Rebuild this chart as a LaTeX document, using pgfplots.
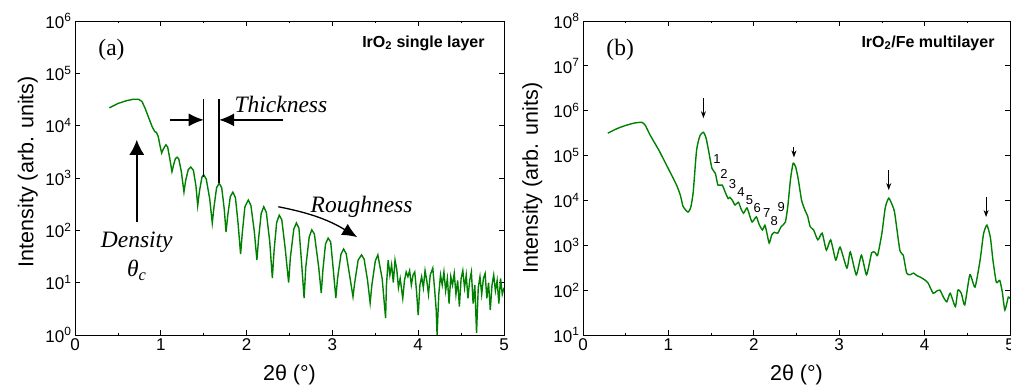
\documentclass[border=0pt]{standalone}
\usepackage{pgfplots}
\pgfplotsset{compat=1.18}
\usepackage{fontspec}
\setmainfont{Liberation Sans}
\newfontfamily\tms{Liberation Serif}
\usetikzlibrary{arrows.meta}
\definecolor{cg}{RGB}{0,128,0}
\pgfplotsset{
  every axis/.append style={
    scale only axis, height=314pt,
    xmin=0, xmax=5, xtick={0,1,2,3,4,5}, xticklabels={0,1,2,3,4,5},
    minor x tick num=1,
    tick align=inside, major tick length=5pt, minor tick length=2.5pt,
    axis line style={line width=0.9pt},
    tick style={line width=0.8pt, black},
    tick label style={font=\fontsize{17}{17}\selectfont},
    label style={font=\fontsize{21.5}{21.5}\selectfont},
    xlabel style={at={(axis description cs:0.5,-0.127)}, anchor=center},
  }
}
\begin{document}
\begin{tikzpicture}
\useasboundingbox (0,0) rectangle (1011pt,390pt);
% ---------------- panel (a)
\begin{axis}[ymode=log, log basis y=10, width=429pt, at={(75pt,55pt)}, anchor=south west,
  ymin=1, ymax=1e6,
  xlabel={2θ (°)}, ylabel={Intensity (arb. units)},
  ytick={1,10,100,1000,10000,100000,1000000},
  yticklabels={10\textsuperscript{0},10\textsuperscript{1},10\textsuperscript{2},10\textsuperscript{3},10\textsuperscript{4},10\textsuperscript{5},10\textsuperscript{6}},
  ylabel style={at={(axis description cs:-0.11,0.52)}, anchor=center},
]
\addplot[cg, line width=1.4pt] coordinates {
(0.40,21900)(0.50,26500)(0.60,30000)(0.68,32000)(0.74,32000)(0.78,29000)(0.82,21000)(0.86,14000)(0.90,9500)(0.93,7700)(0.95,7400)(0.97,6200)(0.99,4200)(1.01,3000)
(1.03,3600)(1.06,4300)(1.08,3900)(1.10,2600)(1.13,1320)(1.15,1800)(1.17,2350)(1.19,2500)(1.21,2300)(1.24,1300)(1.27,540)
(1.29,900)(1.32,1450)(1.35,1620)(1.38,1400)(1.41,700)(1.43,295)(1.45,550)(1.48,1050)(1.50,1150)(1.53,950)(1.57,400)(1.60,138)
(1.62,280)(1.65,650)(1.68,794)(1.71,650)(1.74,250)(1.76,93)(1.78,190)(1.81,440)(1.84,537)(1.87,420)(1.90,140)(1.93,35)
(1.95,90)(1.98,280)(2.02,380)(2.05,300)(2.09,95)(2.12,27)(2.14,70)(2.17,210)(2.20,282)(2.23,220)(2.27,60)(2.30,12.3)
(2.32,40)(2.35,140)(2.38,195)(2.41,160)(2.45,45)(2.49,10)(2.51,30)(2.55,105)(2.58,138)(2.61,110)(2.64,25)(2.67,5.1)
(2.69,20)(2.73,75)(2.76,102)(2.79,85)(2.84,20)(2.87,6.3)(2.89,18)(2.92,55)(2.95,71)(2.98,60)(3.01,18)(3.04,5.1)
(3.06,12)(3.10,35)(3.13,44)(3.16,36)(3.20,14)(3.24,5.4)(3.26,10)(3.30,27)(3.34,34)(3.37,28)(3.41,11)(3.44,4.1)
(3.46,9)(3.50,26)(3.53,34)(3.55,22)(3.58,12)(3.62,2.1)
(3.63,9)(3.65,27)(3.67,14)(3.69,22)(3.71,10)(3.73,27)(3.75,18)(3.77,8)(3.79,12)(3.82,5)(3.84,11)(3.86,16)(3.88,13)(3.90,17)
(3.92,9)(3.94,14)(3.96,16)(3.98,7)(4.00,2.4)(4.02,9)(4.04,13)(4.06,8)(4.08,17)(4.10,11)(4.12,6)(4.14,14)(4.17,19)(4.19,8)
(4.21,3)(4.22,1.0)(4.24,6)(4.26,14)(4.28,9)(4.30,16)(4.32,7)(4.34,12)(4.36,4)(4.38,13)(4.40,9)(4.42,15)(4.44,6)(4.46,11)
(4.48,3.5)(4.50,12)(4.52,17)(4.54,8)(4.56,14)(4.58,5)(4.60,11)(4.62,16)(4.64,4)(4.66,9)(4.68,1.1)(4.70,8)(4.72,13)(4.74,6)
(4.76,12)(4.78,15)(4.80,5)(4.82,10)(4.84,3)(4.86,9)(4.88,14)(4.90,7)(4.92,11)(4.94,4)(4.96,12)(4.98,6)(5.00,8)
};
\node[font=\tms\fontsize{23.5}{23.5}\selectfont] at (axis description cs:0.085,0.908) {(a)};
\node[anchor=east, font=\bfseries\fontsize{16}{16}\selectfont] at (axis description cs:0.963,0.93) {IrO\textsubscript{2} single layer};
\draw[line width=1.3pt] (axis cs:1.50,32400) -- (axis cs:1.50,1050);
\draw[line width=1.3pt] (axis cs:1.68,32400) -- (axis cs:1.68,794);
\draw[line width=1.3pt, -{Latex[length=15pt,width=13pt]}] (axis cs:1.11,12900) -- (axis cs:1.50,12900);
\draw[line width=1.3pt, -{Latex[length=15pt,width=13pt]}] (axis cs:2.42,12900) -- (axis cs:1.68,12900);
\node[font=\tms\itshape\fontsize{23.5}{23.5}\selectfont] at (axis cs:2.40,25100) {Thickness};
\draw[line width=1.5pt, -{Latex[length=15pt,width=15pt]}] (axis cs:0.72,145) -- (axis cs:0.72,5370);
\node[font=\tms\itshape\fontsize{23.5}{23.5}\selectfont] at (axis cs:0.72,60) {Density};
\node[font=\tms\itshape\fontsize{23.5}{23.5}\selectfont] at (axis cs:0.72,17.4) {θ\textsubscript{c}};
\draw[line width=1.3pt, -{Latex[length=15pt,width=13pt]}] (axis cs:2.37,282) to[bend left=10] (axis cs:3.29,74);
\node[font=\tms\itshape\fontsize{23.5}{23.5}\selectfont] at (axis cs:3.34,282) {Roughness};
\end{axis}
% ---------------- panel (b)
\begin{axis}[ymode=log, log basis y=10, width=427pt, at={(583pt,55pt)}, anchor=south west,
  ymin=10, ymax=1e8,
  xlabel={2θ (°)}, ylabel={Intensity (arb. units)},
  ytick={10,100,1000,10000,100000,1000000,10000000,100000000},
  yticklabels={10\textsuperscript{1},10\textsuperscript{2},10\textsuperscript{3},10\textsuperscript{4},10\textsuperscript{5},10\textsuperscript{6},10\textsuperscript{7},10\textsuperscript{8}},
  ylabel style={at={(axis description cs:-0.119,0.5)}, anchor=center},
]
\addplot[cg, line width=1.4pt, smooth, tension=0.35] coordinates {
(0.29,316000)(0.40,400000)(0.50,470000)(0.60,530000)(0.69,550000)(0.73,470000)(0.78,300000)(0.84,190000)(0.90,120000)
(0.98,60000)(1.05,33000)(1.10,21000)(1.14,13000)(1.17,7500)(1.20,6200)(1.23,5500)(1.26,6800)(1.29,15000)(1.33,132000)
(1.37,280000)(1.41,330000)(1.44,250000)(1.47,130000)(1.51,52000)(1.55,40000)(1.58,22000)(1.63,22000)(1.67,14500)
(1.70,11000)(1.72,11700)(1.75,10000)(1.78,7900)(1.82,9100)(1.85,6500)(1.88,5200)(1.92,6800)(1.95,4700)(1.98,3300)
(2.03,4300)(2.06,3000)(2.10,2200)(2.13,2800)(2.15,2000)(2.18,1120)(2.21,1700)(2.24,1950)(2.28,1860)(2.32,2600)
(2.37,3300)(2.40,8000)(2.43,30000)(2.46,67000)(2.49,56000)(2.52,30000)(2.56,10000)(2.60,6000)(2.63,4500)(2.66,2600)
(2.70,2200)(2.75,1320)(2.80,1860)(2.85,780)(2.90,1320)(2.96,470)(3.01,910)(3.09,310)(3.13,710)(3.20,220)(3.26,600)
(3.32,220)(3.38,680)(3.42,690)(3.45,600)(3.50,1860)(3.54,7000)(3.58,11200)(3.62,8000)(3.65,5200)(3.71,780)(3.75,600)
(3.79,240)(3.83,220)(3.87,240)(3.91,210)(3.95,195)(4.00,170)(4.04,145)(4.10,85)(4.14,95)(4.18,100)(4.22,70)(4.26,55)
(4.30,85)(4.36,43)(4.39,100)(4.43,85)(4.47,47)(4.53,220)(4.59,117)(4.65,470)(4.69,1800)(4.73,2800)(4.77,1500)(4.80,470)
(4.84,150)(4.88,165)(4.91,90)(4.94,36)(4.98,70)(5.00,65)
};
\node[font=\tms\fontsize{23.5}{23.5}\selectfont] at (axis description cs:0.087,0.908) {(b)};
\node[anchor=east, font=\bfseries\fontsize{16}{16}\selectfont] at (axis description cs:0.972,0.93) {IrO\textsubscript{2}/Fe multilayer};
\draw[line width=0.9pt, -{Stealth[length=7pt,width=5pt]}] (axis cs:1.41,1.9e6) -- (axis cs:1.41,6.8e5);
\draw[line width=0.9pt, -{Stealth[length=7pt,width=5pt]}] (axis cs:2.47,1.55e5) -- (axis cs:2.47,9.1e4);
\draw[line width=0.9pt, -{Stealth[length=7pt,width=5pt]}] (axis cs:3.58,4.68e4) -- (axis cs:3.58,1.7e4);
\draw[line width=0.9pt, -{Stealth[length=7pt,width=5pt]}] (axis cs:4.72,1.17e4) -- (axis cs:4.72,4270);
\node[font=\fontsize{13}{13}\selectfont] at (axis cs:1.57,83000) {1};
\node[font=\fontsize{13}{13}\selectfont] at (axis cs:1.65,38900) {2};
\node[font=\fontsize{13}{13}\selectfont] at (axis cs:1.75,22900) {3};
\node[font=\fontsize{13}{13}\selectfont] at (axis cs:1.85,15100) {4};
\node[font=\fontsize{13}{13}\selectfont] at (axis cs:1.95,10000) {5};
\node[font=\fontsize{13}{13}\selectfont] at (axis cs:2.04,6760) {6};
\node[font=\fontsize{13}{13}\selectfont] at (axis cs:2.15,5250) {7};
\node[font=\fontsize{13}{13}\selectfont] at (axis cs:2.24,3470) {8};
\node[font=\fontsize{13}{13}\selectfont] at (axis cs:2.32,7080) {9};
\end{axis}
\end{tikzpicture}
\end{document}
